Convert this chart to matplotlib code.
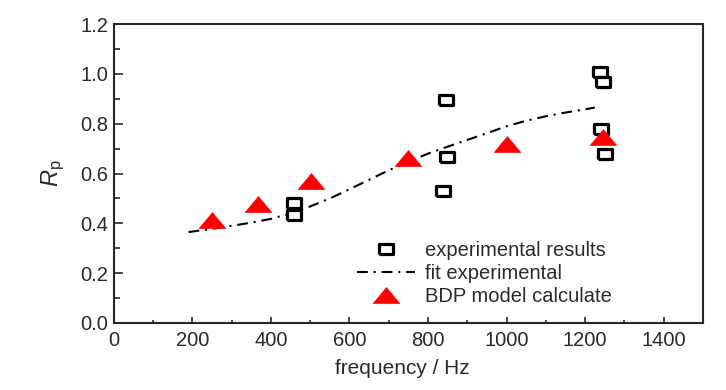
import matplotlib
matplotlib.use("Agg")
import matplotlib.pyplot as plt
from matplotlib.ticker import MultipleLocator, FormatStrFormatter

plt.rcParams['font.family'] = ['Liberation Sans', 'DejaVu Sans']
plt.rcParams['mathtext.fontset'] = 'custom'
plt.rcParams['mathtext.rm'] = 'Liberation Sans'
plt.rcParams['mathtext.it'] = 'Liberation Sans:italic'

# experimental results (squares)
exp_freq = [459, 459, 837, 847, 849, 1237, 1245, 1242, 1250]
exp_rp = [0.48, 0.433, 0.53, 0.895, 0.666, 1.007, 0.967, 0.778, 0.678]

# fit experimental (dash-dot curve)
fit_freq = [190, 250, 300, 350, 400, 450, 500, 550, 600, 650, 700, 750, 800,
            850, 900, 950, 1000, 1050, 1100, 1150, 1200, 1225]
fit_rp = [0.365, 0.378, 0.39, 0.403, 0.418, 0.44, 0.468, 0.50, 0.537, 0.575,
          0.613, 0.648, 0.68, 0.708, 0.735, 0.762, 0.79, 0.812, 0.83, 0.845,
          0.858, 0.865]

# BDP model calculate (triangles)
bdp_freq = [250, 367, 502, 750, 1002, 1245]
bdp_rp = [0.415, 0.478, 0.57, 0.663, 0.72, 0.746]

text_col = '#2a2a2a'
spine_col = '#1f2b2b'

rect = [(-1, -0.62), (1, -0.62), (1, 0.62), (-1, 0.62), (-1, -0.62)]
tri = [(-1, -0.6), (1, -0.6), (0, 0.6), (-1, -0.6)]

fig = plt.figure(figsize=(7.26, 3.90), dpi=100)
ax = fig.add_axes([0.157, 0.172, 0.811, 0.766])

ax.plot(exp_freq, exp_rp, linestyle='none', marker=rect, markersize=10.5,
        markerfacecolor='white', markeredgecolor='black', markeredgewidth=2.3,
        label='experimental results', zorder=3)
ax.plot(fit_freq, fit_rp, color='black', lw=1.5,
        linestyle=(0, (5.2, 2.8, 1.0, 2.8)), label='fit experimental', zorder=2)
ax.plot(bdp_freq, bdp_rp, linestyle='none', marker=tri, markersize=19,
        markerfacecolor='#ff0000', markeredgecolor='#ff0000', markeredgewidth=0.5,
        label='BDP model calculate', zorder=4)

ax.set_xlim(0, 1500)
ax.set_ylim(0, 1.2)
ax.xaxis.set_major_locator(MultipleLocator(200))
ax.xaxis.set_minor_locator(MultipleLocator(100))
ax.yaxis.set_major_locator(MultipleLocator(0.2))
ax.yaxis.set_minor_locator(MultipleLocator(0.1))
ax.yaxis.set_major_formatter(FormatStrFormatter('%.1f'))

ax.tick_params(axis='both', which='both', direction='in', colors=spine_col,
               labelcolor=text_col, labelsize=14.5, width=1.2)
ax.tick_params(axis='x', which='major', length=4.5, pad=6)
ax.tick_params(axis='x', which='minor', length=2.5)
ax.tick_params(axis='y', which='major', length=6.5, pad=4)
ax.tick_params(axis='y', which='minor', length=4)

for sp in ax.spines.values():
    sp.set_color(spine_col)
    sp.set_linewidth(1.5)

ax.set_xlabel('frequency / Hz', fontsize=15, color=text_col, labelpad=6)
ax.xaxis.set_label_coords(0.49, -0.12)
ax.set_ylabel(r'$\mathit{R}_{\rm p}$', fontsize=17, color=text_col, labelpad=10)

leg = ax.legend(loc='upper left', bbox_to_anchor=(347 / 726, 1 - 231 / 390),
                bbox_transform=fig.transFigure, frameon=False, fontsize=14.5,
                handlelength=2.9, handletextpad=0.45, labelspacing=0.2,
                borderpad=0, markerscale=1.0)
for t in leg.get_texts():
    t.set_color(text_col)

fig.savefig('out.png', dpi=100, facecolor='white')
